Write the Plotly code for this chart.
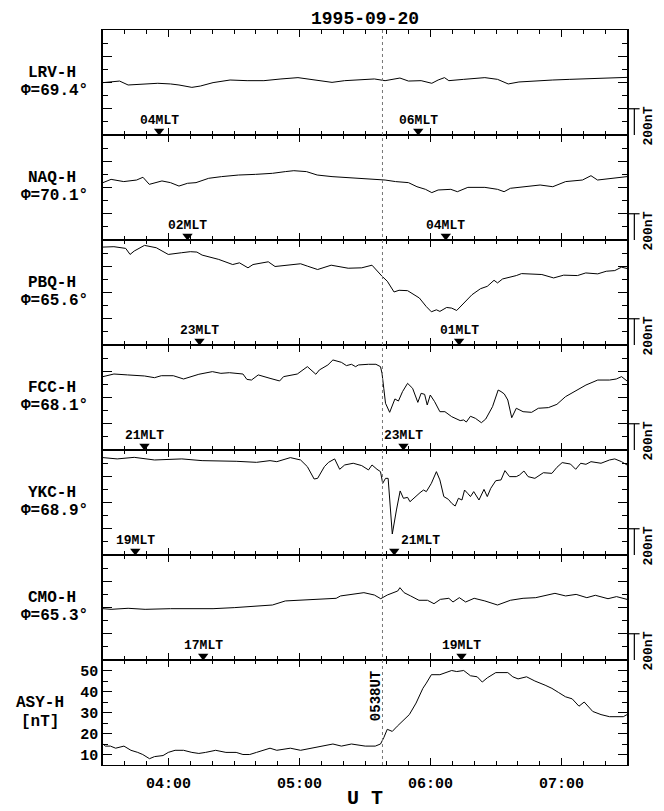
import numpy as np
import pandas as pd
import plotly.graph_objects as go
from plotly.subplots import make_subplots

T0 = pd.Timestamp("1995-09-20 03:30")
ONSET = "05:38"

stations  = ["LRV-H", "NAQ-H", "PBQ-H", "FCC-H", "YKC-H", "CMO-H"]
latitudes = ["69.4", "70.1", "65.6", "68.1", "68.9", "65.3"]

# times in minutes after 03:30 UT, H in nT above the panel base
lrv_t = [0, 7.6, 11.5, 19.3, 25.1, 30.9, 34.8, 40.7, 44.6, 50.4, 58.2, 66, 73.7, 81.5, 89.3, 97.1,
         104.9, 110.7, 118.5, 124.3, 129.2, 136, 139.9, 145.7, 150.6, 153.5, 156.4, 158.4, 165.2,
         171, 174.9, 180.7, 185.6, 190.5, 198.2, 206, 213.8, 225.5, 233.3, 240]
lrv_h = [399, 411, 381, 389, 394, 389, 381, 363, 373, 399, 419, 414, 414, 427, 437, 419,
         401, 414, 419, 427, 414, 434, 411, 414, 394, 419, 437, 414, 424,
         429, 437, 424, 389, 404, 414, 419, 424, 429, 437, 439]

naq_t = [0, 3.7, 9.5, 15.4, 18.3, 21.2, 27, 30.9, 34.8, 38.7, 42.6, 48.4, 54.3, 62.1, 69.8, 77.6,
         83.5, 87.4, 93.2, 98.1, 104.9, 112.6, 120.4, 126.3, 129.2, 134, 139.9, 143.8, 147.7, 150.6,
         153.5, 159.3, 162.3, 167.1, 174.9, 180.7, 183.7, 186.6, 192.4, 200.2, 206, 211.9, 219.6,
         223.5, 226.5, 233.3, 240]
naq_h = [437, 462, 445, 457, 478, 424, 450, 437, 411, 432, 437, 470, 483, 495, 500, 508,
         521, 528, 521, 495, 483, 475, 470, 465, 457, 445, 437, 406, 386, 361,
         381, 386, 368, 401, 401, 386, 368, 394, 406, 419, 406, 445, 457,
         490, 457, 470, 483]

pbq_t = [0, 5, 10.4, 12.4, 14.3, 19, 24.4, 29.9, 36, 40, 43, 45.4, 53, 59.4, 62.5, 66.4, 68.7,
         75.7, 78.8, 85.8, 90.5, 93.6, 98.3, 104.5, 112.3, 118.5, 123.2, 127.8, 130.2, 133.3, 135.6,
         139.5, 144.9, 148, 150.4, 152.7, 154.3, 157.4, 159.7, 162, 165.2, 169, 172.9, 176, 179.1,
         180.7, 183, 187, 189.3, 191.7, 201, 206.4, 211, 217.3, 221.1, 226.6, 230.5, 234.4, 237.5, 240]
pbq_h = [746, 749, 736, 690, 716, 759, 741, 690, 703, 711, 708, 685, 652, 613, 626, 588, 613,
         634, 598, 613, 619, 601, 575, 608, 585, 588, 608, 524, 486, 404, 417,
         414, 358, 294, 253, 268, 256, 286, 281, 263, 320, 383, 429, 447, 493,
         473, 503, 519, 529, 544, 537, 511, 532, 529, 549, 542, 562, 567, 593, 583]

fcc_t = [0, 5, 11.2, 19, 23.6, 26.7, 32.2, 36.9, 43.9, 50.1, 54, 57.9, 64.1, 65.9, 68, 71.1, 76.5,
         80.9, 82.7, 89, 93.6, 96, 97.5, 99.1, 103, 105.3, 109.2, 111.5, 113.8, 115.7, 117, 121.6,
         125, 127.1, 127.8, 128.6, 129.4, 131.3, 133.7, 135.3, 137.2, 139.5, 141.8, 144.2, 145.7,
         147.3, 148.5, 149.9, 151.9, 154.3, 156.6, 159.7, 163.6, 165.2, 166.4, 168.3, 170.6, 173.3,
         175.3, 178.4, 181, 182.3, 183.8, 185.4, 187.2, 189.3, 192.4, 196.3, 199.4, 204, 207.9,
         211.8, 216.5, 221.2, 226.6, 232, 235.1, 237.5, 240]
fcc_h = [559, 579, 572, 564, 551, 566, 566, 541, 577, 597, 584, 589, 579, 538, 533, 572, 546,
         526, 559, 579, 635, 602, 577, 610, 648, 686, 668, 643, 653, 635, 648, 653,
         653, 635, 584, 470, 356, 287, 389, 373, 445, 508, 470, 363, 432,
         424, 343, 419, 368, 292, 292, 254, 224, 229, 213, 257, 241, 208,
         236, 330, 457, 445, 427, 381, 246, 318, 292, 287, 318, 323, 348,
         406, 450, 495, 533, 533, 541, 559, 526]

ykc_t = [0, 6.5, 14.3, 23.6, 36.1, 45.4, 61, 70.3, 76.5, 79.6, 85.8, 90.5, 93.6, 96.7, 98.3,
         101.4, 103.3, 106.1, 108.4, 110.7, 114.6, 118.5, 121.6, 123.2, 125.5, 127.1, 128.1, 129.4,
         130.6, 131.7, 132.5, 134.4, 136.1, 137.6, 139.5, 140.6, 142.6, 145.2, 146.8, 148.1, 150.4,
         152.7, 154.3, 156.1, 158.2, 159.7, 161.3, 162.8, 164.4, 165.6, 167, 168.3, 169.8, 172.2,
         174.5, 176, 177.6, 179.9, 182.3, 184.1, 186.2, 189.3, 190.8, 192.8, 194.7, 197.8, 201.7,
         205.6, 207.9, 210.3, 214.1, 216.5, 218.8, 221.2, 223.5, 228.1, 232, 234.4, 237.5, 240]
ykc_h = [742, 732, 744, 724, 732, 719, 714, 706, 719, 711, 742, 724, 673, 579, 584,
         673, 706, 732, 653, 686, 699, 681, 648, 686, 653, 635, 546, 584,
         584, 368, 160, 343, 488, 432, 439, 406, 439, 475, 495, 483, 546,
         635, 572, 445, 424, 394, 373, 432, 419, 495, 470, 445, 483, 419,
         500, 445, 508, 566, 572, 643, 597, 597, 610, 640, 597, 584, 627,
         622, 668, 704, 693, 653, 699, 691, 711, 699, 724, 732, 711, 686]

cmo_t = [0, 3.7, 11.5, 19.3, 30.9, 40.7, 50.4, 60.1, 69.8, 77.6, 83.5, 91.2, 99, 106.8, 108.8,
         114.6, 119.5, 124.3, 127.2, 130.2, 133.1, 135, 136, 137.9, 140.9, 144.7, 148.6, 151.6,
         154.5, 158.4, 160.3, 163.2, 166.1, 170, 174.9, 180.7, 186.6, 192.4, 198.2, 207, 211.9,
         216.7, 221.6, 225.5, 231.3, 235.2, 240]
cmo_h = [391, 386, 394, 386, 391, 391, 391, 399, 411, 419, 450, 457, 462, 470, 488,
         500, 513, 495, 467, 495, 513, 526, 551, 513, 488, 455, 455, 429,
         462, 470, 442, 475, 442, 470, 450, 419, 455, 470, 475, 508, 488,
         500, 475, 493, 467, 483, 462]

asy_t = [0, 1.1, 3.4, 5.8, 9.6, 12.8, 15.9, 18.2, 21.3, 23.6, 27.5, 29.9, 33, 36.9, 40.7, 43.9,
         47, 51.6, 56.3, 61, 64.1, 67.2, 70.3, 76.5, 79.6, 85.8, 90.5, 95.2, 99.8, 105.3, 109.2,
         113.8, 120.1, 124.7, 127.1, 128.6, 130.2, 132.5, 134.8, 137.2, 140.3, 143.4, 146.5, 148.1,
         150.4, 154.3, 157.4, 159.7, 162, 165.2, 168.3, 171.4, 173.7, 176, 179.9, 185.4, 187.7,
         190.1, 194, 197.8, 202.5, 205.6, 208.7, 211.8, 214.9, 218, 220.4, 224.3, 228.1, 232,
         238.3, 240]
asy_h = [15, 14, 14, 13, 14, 12, 11, 10, 8, 9, 9.5, 11, 12, 12, 11, 10.5,
         11, 12, 11, 11, 10, 10, 11, 13, 12, 13, 12, 13, 14, 15, 14,
         15, 14, 14, 15, 18, 22, 21, 23.5, 26, 29, 34.5, 41.5, 44,
         48, 48, 49, 50, 49.5, 50, 47.5, 47, 44.5, 46.5, 49, 49, 47,
         46, 47, 45, 43, 41.5, 39.5, 37.5, 36.5, 33, 35, 30.5, 29, 28,
         28, 29]

# station MLT markers (minutes after 03:30 UT)
mlt_t = [[25.7, 144.4], [38.7, 157.0], [44.2, 163.1], [19.0, 137.6], [14.8, 133.4], [45.9, 164.2]]
mlt_labels = [["04MLT", "06MLT"], ["02MLT", "04MLT"], ["23MLT", "01MLT"],
              ["21MLT", "23MLT"], ["19MLT", "21MLT"], ["17MLT", "19MLT"]]

series = [(lrv_t, lrv_h), (naq_t, naq_h), (pbq_t, pbq_h), (fcc_t, fcc_h), (ykc_t, ykc_h), (cmo_t, cmo_h)]

FONT = "Liberation Mono, Courier New, monospace"


def ut(minutes):
    return T0 + pd.to_timedelta(np.asarray(minutes, dtype=float), unit="m")


def bfont(size):
    return dict(family=FONT, size=size, color="black", weight="bold")


def label(text, x, y, xref, yref, size, **kw):
    fig.add_annotation(x=x, y=y, xref=xref, yref=yref, text=text, showarrow=False,
                       xanchor="center", yanchor="middle", font=bfont(size), **kw)


fig = make_subplots(rows=7, cols=1, shared_xaxes=True, vertical_spacing=0)

for i, (t, h) in enumerate(series):
    n = i + 1
    ax = "" if n == 1 else str(n)
    fig.add_trace(go.Scatter(x=ut(t), y=h, mode="lines", line=dict(color="black", width=1),
                             hoverinfo="skip"), row=n, col=1)
    fig.add_trace(go.Scatter(x=ut(mlt_t[i]), y=[30, 30], mode="markers",
                             marker=dict(symbol="triangle-down", size=9, color="black"),
                             hoverinfo="skip"), row=n, col=1)
    for k, lbl in enumerate(mlt_labels[i]):
        # YKC 21MLT label sits to the right of its marker
        shift = 26 if (i == 4 and k == 1) else 0
        label(lbl, ut([mlt_t[i][k]])[0], 0.14, f"x{ax}", f"y{ax} domain", 13, xshift=shift)

    # station name + latitude
    label(stations[i], -0.098, 0.595, "paper", f"y{ax} domain", 16)
    label(f"\u03a6={latitudes[i]}\u00b0", -0.092, 0.415, "paper", f"y{ax} domain", 16)

    # 200 nT scale bar
    fig.add_shape(type="line", xref=f"x{ax} domain", yref=f"y{ax} domain",
                  x0=1.0, x1=1.024, y0=0.25, y1=0.25, line=dict(color="black", width=1.2))
    fig.add_shape(type="line", xref=f"x{ax} domain", yref=f"y{ax} domain",
                  x0=1.014, x1=1.014, y0=0, y1=0.25, line=dict(color="black", width=1.2))
    label("200nT", 1.041, 0.085, f"x{ax} domain", f"y{ax} domain", 13, textangle=-90)

    fig.update_yaxes(range=[0, 800], tick0=0, dtick=200, showticklabels=False, ticklen=9,
                     minor=dict(ticks="inside", ticklen=5, dtick=100, tick0=0, tickcolor="black"),
                     row=n, col=1)

fig.add_trace(go.Scatter(x=ut(asy_t), y=asy_h, mode="lines", line=dict(color="black", width=1),
                         hoverinfo="skip"), row=7, col=1)
fig.update_yaxes(range=[5, 55], tick0=10, dtick=10, ticklen=9, tickfont=bfont(15),
                 minor=dict(ticks="inside", ticklen=5, dtick=5, tick0=5, tickcolor="black"),
                 row=7, col=1)
label("ASY-H", -0.12, 0.59, "paper", "y7 domain", 16)
label("[nT]", -0.12, 0.41, "paper", "y7 domain", 16)

onset = pd.Timestamp(f"1995-09-20 {ONSET}")
fig.add_shape(type="line", xref="x", yref="paper", x0=onset, x1=onset, y0=0, y1=1,
              line=dict(color="#777777", width=1, dash="dot"))
label(ONSET.replace(":", "") + "UT", onset, 38, "x7", "y7", 14, textangle=-90, xshift=-7)

fig.update_xaxes(range=[T0, T0 + pd.Timedelta(hours=4)], tick0="1995-09-20 04:00",
                 dtick=3600000, tickformat="%H:%M", ticks="inside", ticklen=7,
                 tickcolor="black", tickwidth=1,
                 minor=dict(ticks="inside", ticklen=4, dtick=600000,
                            tick0="1995-09-20 03:30", tickcolor="black"),
                 showline=True, linewidth=1, linecolor="black", mirror="ticks",
                 showgrid=False, zeroline=False, tickfont=bfont(15), ticklabelstandoff=4)
fig.update_yaxes(ticks="inside", tickcolor="black", tickwidth=1, showline=True,
                 linewidth=1.5, linecolor="black", mirror="ticks", showgrid=False,
                 zeroline=False)

# title and axis caption (paper y measured against the 735px plot height)
label("1995-09-20", 0.5, 1.0150, "paper", "paper", 18)
label("U T", 0.5, -0.0455, "paper", "paper", 20)

# the page body adds an 8px offset, so the figure is sized to fill the window exactly
fig.update_layout(width=656, height=803, margin=dict(l=95, r=37, t=22, b=46),
                  plot_bgcolor="white", paper_bgcolor="white", showlegend=False,
                  font=dict(family=FONT, color="black"))

fig.write_html("out.html")
